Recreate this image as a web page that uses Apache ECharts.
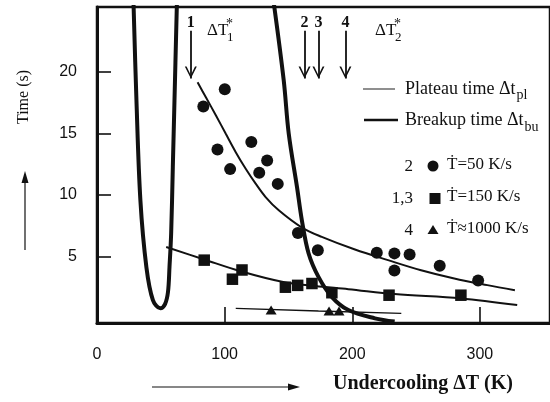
<!DOCTYPE html>
<html><head><meta charset="utf-8">
<script src="https://cdn.jsdelivr.net/npm/echarts@6/dist/echarts.min.js"></script>
<style>html,body{margin:0;padding:0;background:#fff}#c{width:550px;height:402px}</style>
</head><body><div id="c"></div>
<script>
// ---- data ----
const xTickValues = [0, 100, 200, 300];
const yTickValues = [5, 10, 15, 20];

// measured points, dT (K) vs time (s)
const rate50 = [[83.3,17.2],[100.1,18.6],[94.4,13.7],[104.3,12.1],[120.9,14.3],[127.1,11.8],[133.3,12.8],[141.6,10.9],[157.4,6.9],[173,5.5],[219.2,5.3],[233,5.25],[244.9,5.15],[233,3.85],[268.5,4.25],[298.6,3.05]];
const rate150 = [[84,4.7],[106.1,3.15],[113.6,3.9],[147.6,2.5],[157.2,2.65],[168.4,2.8],[184,2.05],[228.8,1.85],[285.1,1.85]];
const rate1000 = [[136.4,0.65],[181.8,0.57],[189.6,0.57]];

// fitted curves
const fit50 = [[78.8,19.16],[85.3,17.94],[93.2,16.46],[100.9,14.97],[108.7,13.48],[116.5,12.13],[124.3,10.92],[132.1,9.83],[142.4,8.75],[160.5,7.35],[176.1,6.59],[202.1,5.56],[228,4.7],[253.9,3.88],[279.9,3.21],[305.8,2.67],[327.4,2.26]];
const fit150 = [[54.2,5.77],[84,4.75],[113.9,3.75],[145,2.94],[171,2.59],[196.9,2.34],[233.2,1.94],[285.1,1.59],[329.2,1.05]];
const fit1000 = [[108.7,0.78],[173.5,0.56],[238.4,0.37]];

// thick limiting curves
const uCurve = [[28.6,25.6],[30.9,17.7],[34.0,9.56],[38.7,4.13],[43.8,1.45],[49.6,0.78],[53.3,1.13],[55.6,2.1],[56.8,4.15],[58.1,6.89],[59.4,12.26],[60.7,17.67],[62.6,25.6]];
const steepCurve = [[138.5,25.6],[146.3,19.3],[150.2,15.0],[156.7,10.64],[160.5,7.94],[165.8,5.24],[173.5,3.34],[183.9,1.72],[196.9,0.64],[217.7,-0.03],[233.2,-0.29]];

// arrows marking critical undercoolings
const arrowX = [73.5, 162.6, 173.5, 194.6];
const arrowNames = ['1', '2', '3', '4'];
const arrowTop = 23.35, arrowTip = 19.46;

// ---- chart ----
const serif = '"Liberation Serif", "DejaVu Serif", serif';
const sans = '"Liberation Sans", "DejaVu Sans", sans-serif';
const ink = '#111';

const cv = document.createElement('canvas').getContext('2d');
function tw(txt, font) { cv.font = font; return cv.measureText(txt).width; }

const legFont = '18px ' + serif;
const w1 = tw('Plateau time \u0394t', legFont);
const w2 = tw('Breakup time \u0394t', legFont);

const chart = echarts.init(document.getElementById('c'), null, {renderer: 'canvas'});

const lineBase = {type: 'line', symbol: 'none', smooth: 0.35, silent: true, clip: true, animation: false};
const dotStyle = {color: ink, opacity: 1};

chart.setOption({
  animation: false,
  grid: {left: 97, top: 7, width: 456, height: 316, show: true, borderColor: ink, borderWidth: 2.5, backgroundColor: 'transparent'},
  xAxis: {
    type: 'value', min: 0, max: 354.9,
    axisLine: {show: true, onZero: false, lineStyle: {color: ink, width: 3}},
    axisTick: {show: true, inside: true, length: 16, customValues: [100, 200, 300], lineStyle: {color: ink, width: 1.6}},
    axisLabel: {show: true, customValues: xTickValues, margin: 24, color: ink, fontFamily: sans, fontSize: 16},
    splitLine: {show: false}
  },
  yAxis: {
    type: 'value', min: -0.41, max: 25.28,
    axisLine: {show: true, onZero: false, lineStyle: {color: ink, width: 3}},
    axisTick: {show: true, inside: true, length: 14, customValues: yTickValues, lineStyle: {color: ink, width: 1.6}},
    axisLabel: {show: true, customValues: yTickValues, margin: 20, color: ink, fontFamily: sans, fontSize: 16},
    splitLine: {show: false}
  },
  series: [
    Object.assign({}, lineBase, {name: 'U', data: uCurve, lineStyle: {color: ink, width: 4}}),
    Object.assign({}, lineBase, {name: 'steep', data: steepCurve, lineStyle: {color: ink, width: 4}}),
    Object.assign({}, lineBase, {name: 'fit50', data: fit50, lineStyle: {color: ink, width: 2}}),
    Object.assign({}, lineBase, {name: 'fit150', data: fit150, lineStyle: {color: ink, width: 2}}),
    Object.assign({}, lineBase, {name: 'fit1000', data: fit1000, smooth: false, lineStyle: {color: ink, width: 1.4},
      markLine: {
        silent: true, animation: false, symbol: ['none', 'none'],
        lineStyle: {color: ink, width: 1.8, type: 'solid'},
        label: {show: true, position: 'start', distance: 0, color: ink, fontFamily: serif, fontWeight: 'bold', fontSize: 16,
                formatter: p => p.name},
        data: arrowX.map((x, i) => [{coord: [x, arrowTop], name: arrowNames[i]}, {coord: [x, arrowTip]}])
      }}),
    {type: 'scatter', name: 'heads', silent: true, animation: false, data: arrowX.map(x => [x, arrowTip]),
     symbol: 'path://M0,0 L1.5,0 L5,7.2 L8.5,0 L10,0 L5,10 Z', symbolSize: [12, 12], symbolOffset: [0, -6],
     itemStyle: dotStyle},
    {type: 'scatter', name: '50 K/s', data: rate50, symbol: 'circle', symbolSize: 12, itemStyle: dotStyle, silent: true, animation: false, z: 5},
    {type: 'scatter', name: '150 K/s', data: rate150, symbol: 'rect', symbolSize: 11.5, itemStyle: dotStyle, silent: true, animation: false, z: 5},
    {type: 'scatter', name: '1000 K/s', data: rate1000, symbol: 'triangle', symbolSize: [11, 9], itemStyle: dotStyle, silent: true, animation: false, z: 5}
  ],
  graphic: [
    // y title + arrow
    {type: 'text', x: 24, y: 97, rotation: Math.PI / 2, style: {text: 'Time (s)', font: '16px ' + serif, fill: ink, align: 'center', verticalAlign: 'middle'}},
    {type: 'line', shape: {x1: 25, y1: 250, x2: 25, y2: 180}, style: {stroke: ink, lineWidth: 1.2}},
    {type: 'polygon', shape: {points: [[25, 171], [21.5, 183], [28.5, 183]]}, style: {fill: ink}},
    // x title + arrow
    {type: 'text', x: 333, y: 384, style: {text: 'Undercooling \u0394T (K)', font: 'bold 20px ' + serif, fill: ink, align: 'left', verticalAlign: 'middle'}},
    {type: 'line', shape: {x1: 152, y1: 387, x2: 290, y2: 387}, style: {stroke: ink, lineWidth: 1.2}},
    {type: 'polygon', shape: {points: [[300, 387], [288, 383.5], [288, 390.5]]}, style: {fill: ink}},
    // ΔT* labels
    {type: 'text', x: 207, y: 31, style: {text: '\u0394T', font: '17px ' + serif, fill: ink, verticalAlign: 'middle'}},
    {type: 'text', x: 226, y: 24, style: {text: '*', font: '14px ' + serif, fill: ink, verticalAlign: 'middle'}},
    {type: 'text', x: 227, y: 38, style: {text: '1', font: '13px ' + serif, fill: ink, verticalAlign: 'middle'}},
    {type: 'text', x: 375, y: 31, style: {text: '\u0394T', font: '17px ' + serif, fill: ink, verticalAlign: 'middle'}},
    {type: 'text', x: 394, y: 24, style: {text: '*', font: '14px ' + serif, fill: ink, verticalAlign: 'middle'}},
    {type: 'text', x: 395, y: 38, style: {text: '2', font: '13px ' + serif, fill: ink, verticalAlign: 'middle'}},
    // legend: lines
    {type: 'line', shape: {x1: 363, y1: 89, x2: 395, y2: 89}, style: {stroke: '#444', lineWidth: 1.2}},
    {type: 'text', x: 405, y: 89, style: {text: 'Plateau time \u0394t', font: legFont, fill: ink, verticalAlign: 'middle'}},
    {type: 'text', x: 405 + w1 + 1, y: 95, style: {text: 'pl', font: '14px ' + serif, fill: ink, verticalAlign: 'middle'}},
    {type: 'line', shape: {x1: 364, y1: 120, x2: 398, y2: 120}, style: {stroke: ink, lineWidth: 2.5}},
    {type: 'text', x: 405, y: 120, style: {text: 'Breakup time \u0394t', font: legFont, fill: ink, verticalAlign: 'middle'}},
    {type: 'text', x: 405 + w2 + 1, y: 127, style: {text: 'bu', font: '14px ' + serif, fill: ink, verticalAlign: 'middle'}},
    // legend: symbols
    {type: 'text', x: 413, y: 167, style: {text: '2', font: '17px ' + serif, fill: ink, align: 'right', verticalAlign: 'middle'}},
    {type: 'circle', shape: {cx: 433, cy: 166, r: 5.5}, style: {fill: ink}},
    {type: 'text', x: 447, y: 165, style: {text: '\u1E6A=50 K/s', font: '17px ' + serif, fill: ink, verticalAlign: 'middle'}},
    {type: 'text', x: 413, y: 199, style: {text: '1,3', font: '17px ' + serif, fill: ink, align: 'right', verticalAlign: 'middle'}},
    {type: 'rect', shape: {x: 429.5, y: 193, width: 11, height: 11}, style: {fill: ink}},
    {type: 'text', x: 447, y: 197, style: {text: '\u1E6A=150 K/s', font: '17px ' + serif, fill: ink, verticalAlign: 'middle'}},
    {type: 'text', x: 413, y: 231, style: {text: '4', font: '17px ' + serif, fill: ink, align: 'right', verticalAlign: 'middle'}},
    {type: 'polygon', shape: {points: [[433, 225], [427.5, 234], [438.5, 234]]}, style: {fill: ink}},
    {type: 'text', x: 447, y: 229, style: {text: '\u1E6A\u22481000 K/s', font: '17px ' + serif, fill: ink, verticalAlign: 'middle'}}
  ]
});
</script>
</body></html>
